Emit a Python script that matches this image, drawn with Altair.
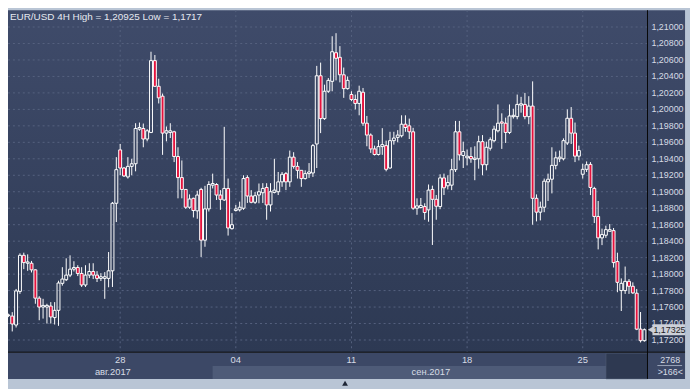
import altair as alt
import pandas as pd

# ---------------- data ----------------
opens = [1.17496, 1.17490, 1.17382, 1.17790, 1.18228, 1.18132, 1.18132, 1.18052, 1.17708, 1.17600,
         1.17600, 1.17612, 1.17472, 1.17560, 1.17888, 1.17932, 1.17988, 1.18060, 1.18080, 1.18008,
         1.17868, 1.17988, 1.18032, 1.17988, 1.17948, 1.17948, 1.17948, 1.18040, 1.18860, 1.19508,
         1.19288, 1.19180, 1.19308, 1.19340, 1.19760, 1.19768, 1.19640, 1.19720, 1.20592, 1.20280,
         1.20160, 1.19712, 1.19720, 1.19728, 1.19428, 1.19172, 1.19028, 1.18812, 1.18920, 1.18768,
         1.19028, 1.18412, 1.18792, 1.19080, 1.19088, 1.18960, 1.18900, 1.19040, 1.18552, 1.18772,
         1.18780, 1.18800, 1.19172, 1.18948, 1.18872, 1.18960, 1.18988, 1.19052, 1.18840, 1.18992,
         1.19000, 1.19120, 1.19220, 1.19120, 1.19420, 1.19308, 1.19260, 1.19160, 1.19220, 1.19228,
         1.19580, 1.20408, 1.19888, 1.20220, 1.20340, 1.20688, 1.20632, 1.20420, 1.20252, 1.20180,
         1.20120, 1.20072, 1.20208, 1.19832, 1.19688, 1.19520, 1.19452, 1.19548, 1.19560, 1.19288,
         1.19620, 1.19660, 1.19680, 1.19820, 1.19800, 1.19728, 1.18800, 1.18808, 1.18820, 1.18780,
         1.19028, 1.18908, 1.18820, 1.19168, 1.19072, 1.19080, 1.19268, 1.19728, 1.19440, 1.19412,
         1.19428, 1.19392, 1.19400, 1.19608, 1.19328, 1.19528, 1.19620, 1.19740, 1.19848, 1.19832,
         1.19720, 1.19912, 1.19912, 1.20052, 1.20060, 1.19912, 1.20040, 1.18920, 1.18752, 1.18812,
         1.19120, 1.19152, 1.19320, 1.19400, 1.19400, 1.19592, 1.19892, 1.19712, 1.19432, 1.19212,
         1.19272, 1.19332, 1.19040, 1.18700, 1.18440, 1.18472, 1.18520, 1.18528, 1.18152, 1.17800,
         1.17800, 1.17912, 1.17852, 1.17768, 1.17332, 1.17192]
highs = [1.17520, 1.17538, 1.17820, 1.18252, 1.18260, 1.18240, 1.18160, 1.18060, 1.17732, 1.17700,
         1.17640, 1.17660, 1.17660, 1.17920, 1.18084, 1.18192, 1.18228, 1.18156, 1.18108, 1.18084,
         1.18108, 1.18132, 1.18132, 1.18036, 1.18012, 1.18024, 1.18268, 1.18876, 1.19420, 1.19580,
         1.19300, 1.19420, 1.19400, 1.19832, 1.19840, 1.19828, 1.19760, 1.20700, 1.20660, 1.20372,
         1.20192, 1.19792, 1.19832, 1.19740, 1.19540, 1.19380, 1.19032, 1.18968, 1.18928, 1.19012,
         1.19048, 1.19072, 1.19128, 1.19220, 1.19104, 1.19020, 1.19788, 1.19160, 1.18740, 1.18840,
         1.18880, 1.19200, 1.19200, 1.19020, 1.18996, 1.19100, 1.19104, 1.19104, 1.19104, 1.19400,
         1.19240, 1.19240, 1.19240, 1.19500, 1.19480, 1.19360, 1.19260, 1.19260, 1.19348, 1.19580,
         1.20528, 1.20568, 1.20300, 1.20380, 1.20888, 1.20925, 1.20768, 1.20508, 1.20400, 1.20220,
         1.20180, 1.20288, 1.20260, 1.19920, 1.19708, 1.19560, 1.19628, 1.19772, 1.19620, 1.19728,
         1.19728, 1.19748, 1.19928, 1.19928, 1.19888, 1.19776, 1.18920, 1.18924, 1.18860, 1.19088,
         1.19074, 1.18960, 1.19212, 1.19220, 1.19200, 1.19400, 1.19860, 1.19860, 1.19608, 1.19512,
         1.19540, 1.19552, 1.19680, 1.19688, 1.19608, 1.19660, 1.19800, 1.20060, 1.19952, 1.19900,
         1.20060, 1.20008, 1.20180, 1.20152, 1.20200, 1.20160, 1.20340, 1.18968, 1.18880, 1.19160,
         1.19220, 1.19540, 1.19488, 1.19500, 1.19648, 1.20000, 1.20028, 1.19840, 1.19560, 1.19340,
         1.19368, 1.19360, 1.19060, 1.18888, 1.18552, 1.18588, 1.18608, 1.18560, 1.18260, 1.17948,
         1.18092, 1.17940, 1.17900, 1.17820, 1.17540, 1.17340]
lows = [1.17478, 1.17304, 1.17352, 1.17760, 1.18060, 1.18040, 1.18020, 1.17640, 1.17440, 1.17460,
        1.17400, 1.17400, 1.17388, 1.17372, 1.17860, 1.17916, 1.17964, 1.18032, 1.17976, 1.17844,
        1.17844, 1.17952, 1.17940, 1.17904, 1.17916, 1.17700, 1.17840, 1.17844, 1.18632, 1.19200,
        1.19180, 1.19160, 1.19200, 1.19248, 1.19740, 1.19540, 1.19612, 1.19712, 1.20272, 1.20072,
        1.19448, 1.19612, 1.19652, 1.19360, 1.18920, 1.18920, 1.18792, 1.18792, 1.18688, 1.18672,
        1.18208, 1.18332, 1.18760, 1.19040, 1.18900, 1.18780, 1.18888, 1.18468, 1.18540, 1.18760,
        1.18760, 1.18780, 1.18864, 1.18860, 1.18852, 1.18860, 1.18864, 1.18660, 1.18760, 1.18980,
        1.18960, 1.19060, 1.19020, 1.19060, 1.19280, 1.19160, 1.19060, 1.19148, 1.19168, 1.19180,
        1.19288, 1.19712, 1.19872, 1.20200, 1.20220, 1.20352, 1.20328, 1.20140, 1.20240, 1.20100,
        1.20000, 1.19928, 1.19800, 1.19552, 1.19472, 1.19440, 1.19440, 1.19448, 1.19248, 1.19280,
        1.19572, 1.19600, 1.19660, 1.19728, 1.19640, 1.18780, 1.18720, 1.18798, 1.18660, 1.18636,
        1.18354, 1.18660, 1.18788, 1.18960, 1.19028, 1.19020, 1.19240, 1.19380, 1.19288, 1.19320,
        1.19352, 1.19140, 1.19280, 1.19200, 1.19260, 1.19500, 1.19600, 1.19720, 1.19520, 1.19592,
        1.19700, 1.19888, 1.19880, 1.19960, 1.19880, 1.19820, 1.18600, 1.18640, 1.18652, 1.18752,
        1.18888, 1.18980, 1.19272, 1.19360, 1.19380, 1.19568, 1.19580, 1.19360, 1.19380, 1.19160,
        1.19240, 1.18960, 1.18620, 1.18300, 1.18352, 1.18440, 1.18520, 1.18080, 1.17780, 1.17552,
        1.17760, 1.17760, 1.17760, 1.17320, 1.17170, 1.17180]
closes = [1.17504, 1.17394, 1.17796, 1.18228, 1.18140, 1.18148, 1.18052, 1.17708, 1.17600, 1.17620,
          1.17620, 1.17480, 1.17560, 1.17892, 1.17940, 1.17988, 1.18060, 1.18080, 1.18008, 1.17868,
          1.17988, 1.18032, 1.17988, 1.17948, 1.17968, 1.17968, 1.18040, 1.18860, 1.19268, 1.19288,
          1.19192, 1.19308, 1.19340, 1.19768, 1.19780, 1.19640, 1.19740, 1.20592, 1.20280, 1.20140,
          1.19712, 1.19740, 1.19740, 1.19428, 1.19172, 1.19028, 1.18812, 1.18912, 1.18772, 1.18960,
          1.18412, 1.18792, 1.19088, 1.19100, 1.18960, 1.18908, 1.19040, 1.18560, 1.18600, 1.18792,
          1.18812, 1.19160, 1.18948, 1.18872, 1.18952, 1.19000, 1.19040, 1.18840, 1.19000, 1.19020,
          1.19120, 1.19212, 1.19120, 1.19420, 1.19308, 1.19260, 1.19160, 1.19220, 1.19240, 1.19560,
          1.20408, 1.19888, 1.20220, 1.20352, 1.20700, 1.20620, 1.20420, 1.20252, 1.20352, 1.20120,
          1.20072, 1.20220, 1.19832, 1.19688, 1.19520, 1.19452, 1.19548, 1.19572, 1.19272, 1.19620,
          1.19652, 1.19688, 1.19820, 1.19780, 1.19728, 1.18800, 1.18828, 1.18834, 1.18748, 1.19020,
          1.18908, 1.18824, 1.19168, 1.19048, 1.19112, 1.19268, 1.19728, 1.19448, 1.19488, 1.19432,
          1.19400, 1.19408, 1.19608, 1.19328, 1.19540, 1.19632, 1.19760, 1.19832, 1.19832, 1.19720,
          1.19920, 1.19928, 1.20060, 1.20068, 1.19912, 1.20040, 1.18920, 1.18752, 1.18812, 1.19128,
          1.19152, 1.19320, 1.19412, 1.19420, 1.19620, 1.19892, 1.19712, 1.19432, 1.19500, 1.19272,
          1.19328, 1.19052, 1.18700, 1.18440, 1.18480, 1.18540, 1.18540, 1.18140, 1.17900, 1.17888,
          1.17912, 1.17852, 1.17772, 1.17332, 1.17192, 1.17325]

price_ticks = [1.172, 1.174, 1.176, 1.178, 1.180, 1.182, 1.184, 1.186, 1.188, 1.190,
               1.192, 1.194, 1.196, 1.198, 1.200, 1.202, 1.204, 1.206, 1.208, 1.210]
week_ticks = [29, 59, 89, 119, 149]          # candle index of each week start
week_labels = ["28", "04", "11", "18", "25"]
month_pos = [27.1, 109.6]                    # candle index under each month label
month_labels = ["авг.2017", "сен.2017"]
title_text = "EUR/USD 4H High = 1,20925 Low = 1,1717"
footer_top = "2768"
footer_bottom = ">166<"

# ---------------- layout / style ----------------
PW, PH = 647, 346
FONT = "Liberation Sans"
FRAME = "#b9c5d5"
RED = "#e5123d"
GRID = "#56627f"
LBL = "#d6dbe5"

df = pd.DataFrame({"i": list(range(len(opens))), "o": opens, "h": highs, "l": lows, "c": closes})
one = pd.DataFrame({"k": [0]})

xs = alt.Scale(domain=[-0.1, 165.8], nice=False, zero=False)
ys = alt.Scale(domain=[1.17052, 1.21204], nice=False, zero=False)

# background panel (plot + right scale) with gradient
bg = alt.Chart(one).mark_rect(
    color=alt.LinearGradient(gradient="linear", x1=0, x2=0, y1=0, y2=1,
                             stops=[alt.GradientStop(color="#3f4b6a", offset=0),
                                    alt.GradientStop(color="#2d3953", offset=1)])
).encode(x=alt.value(0), x2=alt.value(685), y=alt.value(0), y2=alt.value(346))

bottom_row = alt.Chart(one).mark_rect(color="#3c4866").encode(
    x=alt.value(0), x2=alt.value(685), y=alt.value(346), y2=alt.value(373))
thumb = alt.Chart(one).mark_rect(color="#4e5b78").encode(
    x=alt.value(207), x2=alt.value(605), y=alt.value(360), y2=alt.value(373))
darkbox = alt.Chart(one).mark_rect(color="#2e3951", stroke="#56617a", strokeWidth=0.5).encode(
    x=alt.value(605), x2=alt.value(647), y=alt.value(347), y2=alt.value(373))

# grid lines from the tick arrays
hgrid = alt.Chart(pd.DataFrame({"p": price_ticks})).mark_rule(
    color=GRID, strokeDash=[2, 3], strokeWidth=1).encode(
    y=alt.Y("p:Q", scale=ys, axis=None), x=alt.value(0), x2=alt.value(PW))
vgrid = alt.Chart(pd.DataFrame({"t": week_ticks})).mark_rule(
    color=GRID, strokeDash=[2, 3], strokeWidth=1).encode(
    x=alt.X("t:Q", scale=xs, axis=None), y=alt.value(0), y2=alt.value(PH))

base = alt.Chart(df).transform_calculate(
    top="max(datum.o, datum.c)", bot="min(datum.o, datum.c)",
    xa="datum.i - 0.38", xb="datum.i + 0.38")

wick_up = base.mark_rule(color="white", strokeWidth=1).encode(
    x=alt.X("i:Q", scale=xs, axis=None),
    y=alt.Y("h:Q", scale=ys, axis=None), y2="top:Q")
wick_dn = base.mark_rule(color="white", strokeWidth=1).encode(
    x=alt.X("i:Q", scale=xs, axis=None),
    y=alt.Y("bot:Q", scale=ys, axis=None), y2="l:Q")
bodies = base.mark_rect(stroke="white", strokeWidth=1).encode(
    x=alt.X("xa:Q", scale=xs, axis=None), x2="xb:Q",
    y=alt.Y("o:Q", scale=ys, axis=None), y2="c:Q",
    fill=alt.condition("datum.c < datum.o", alt.value(RED), alt.value("transparent")))

# separating black lines
vline = alt.Chart(one).mark_rule(color="#080808", strokeWidth=1).encode(
    x=alt.value(647), y=alt.value(0), y2=alt.value(373))
hline = alt.Chart(one).mark_rule(color="#080808", strokeWidth=1).encode(
    x=alt.value(0), x2=alt.value(685), y=alt.value(346))

title = alt.Chart(pd.DataFrame({"t": [title_text]})).mark_text(
    align="left", baseline="middle", fontSize=10, font=FONT, color="#e6e9f0").encode(
    x=alt.value(2), y=alt.value(6.5), text="t:N")

# price scale labels (right side)
ylabels = alt.Chart(pd.DataFrame({"p": price_ticks})).transform_calculate(
    lbl="replace(format(datum.p, '.5f'), '.', ',')"
).mark_text(align="left", baseline="middle", fontSize=9, font=FONT, color=LBL).encode(
    x=alt.value(651), y=alt.Y("p:Q", scale=ys, axis=None), text="lbl:N")

weeks = alt.Chart(pd.DataFrame({"w": week_ticks, "lbl": week_labels})).mark_text(
    align="center", baseline="middle", fontSize=9.5, font=FONT, color=LBL).encode(
    x=alt.X("w:Q", scale=xs, axis=None), y=alt.value(354), text="lbl:N")

months = alt.Chart(pd.DataFrame({"m": month_pos, "lbl": month_labels})).mark_text(
    align="center", baseline="middle", fontSize=9.5, font=FONT, color=LBL).encode(
    x=alt.X("m:Q", scale=xs, axis=None), y=alt.value(366.5), text="lbl:N")

foot1 = alt.Chart(pd.DataFrame({"t": [footer_top]})).mark_text(
    align="center", baseline="middle", fontSize=9, font=FONT, color=LBL).encode(
    x=alt.value(670), y=alt.value(353.5), text="t:N")
foot2 = alt.Chart(pd.DataFrame({"t": [footer_bottom]})).mark_text(
    align="center", baseline="middle", fontSize=9, font=FONT, color=LBL).encode(
    x=alt.value(670), y=alt.value(366), text="t:N")
foot_sep = alt.Chart(one).mark_rule(color="#9aa4b8", strokeWidth=1).encode(
    x=alt.value(657), x2=alt.value(682), y=alt.value(359.5))

last = pd.DataFrame({"p": [closes[-1]],
                     "lbl": [f"{closes[-1]:.5f}".replace(".", ",")]})
tag = alt.Chart(last).mark_rect(color="#ccd0d8", yOffset=-5.5, y2Offset=5.5).encode(
    x=alt.value(652), x2=alt.value(685), y=alt.Y("p:Q", scale=ys, axis=None), y2="p:Q")
tag_arrow = alt.Chart(last).mark_point(shape="triangle-left", filled=True, size=40,
                                       color="#ccd0d8", opacity=1).encode(
    x=alt.value(650), y=alt.Y("p:Q", scale=ys, axis=None))
tag_text = alt.Chart(last).mark_text(align="left", baseline="middle", fontSize=9,
                                     font=FONT, color="#1c1c24").encode(
    x=alt.value(653), y=alt.Y("p:Q", scale=ys, axis=None), text="lbl:N")

marker = alt.Chart(one).mark_point(shape="triangle-up", filled=True, size=35,
                                   color="#1e2535", opacity=1).encode(
    x=alt.value(341), y=alt.value(377.5))

chart = alt.layer(
    bg, bottom_row, thumb, darkbox, hgrid, vgrid, wick_up, wick_dn, bodies,
    vline, hline, title, ylabels, weeks, months, foot1, foot2, foot_sep,
    tag, tag_arrow, tag_text, marker
).properties(
    width=PW, height=PH,
    autosize=alt.AutoSizeParams(type="none"),
    padding={"left": 0, "top": 0, "right": 43, "bottom": 35},
    background=FRAME,
).configure_view(stroke=None)

chart.save("out.html", embed_options={"renderer": "svg", "actions": False})
